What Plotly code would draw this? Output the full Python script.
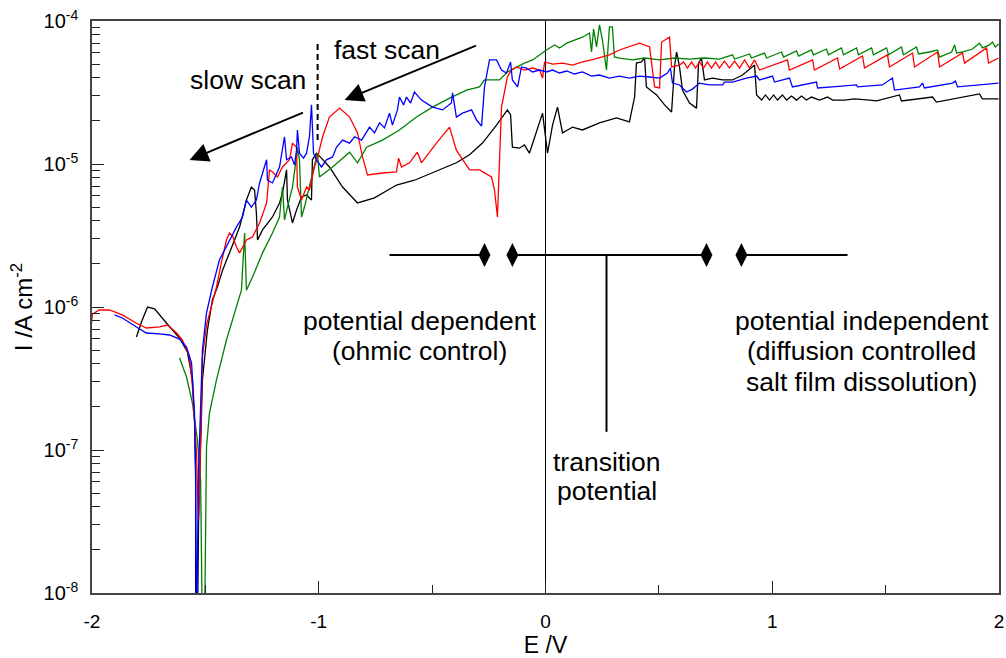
import plotly.graph_objects as go

# Potentiodynamic polarisation curves: potential E (V) vs current density I (A cm^-2)

E_black = [-1.804, -1.782, -1.755, -1.724, -1.671, -1.614, -1.579, -1.557, -1.548, -1.543,
           -1.543, -1.535, -1.530, -1.526, -1.513, -1.491, -1.469, -1.447, -1.424, -1.394,
           -1.372, -1.349, -1.319, -1.297, -1.283, -1.275, -1.270, -1.248, -1.204, -1.173,
           -1.160, -1.142, -1.138, -1.116, -1.098, -1.076, -1.054, -1.032, -1.028, -1.010,
           -0.988, -0.953, -0.895, -0.829, -0.754, -0.657, -0.578, -0.498, -0.393, -0.335,
           -0.278, -0.216, -0.168, -0.154, -0.146, -0.115, -0.093, -0.071, -0.040, -0.013,
           0.009, 0.031, 0.053, 0.075, 0.097, 0.119, 0.163, 0.238, 0.313, 0.370,
           0.393, 0.401, 0.423, 0.437, 0.445, 0.490, 0.525, 0.556, 0.569, 0.578,
           0.591, 0.604, 0.635, 0.666, 0.675, 0.688, 0.701, 0.736, 0.781, 0.825,
           0.869, 0.922, 0.931, 0.953, 0.970, 0.988, 1.006, 1.023, 1.045, 1.063,
           1.085, 1.107, 1.129, 1.151, 1.173, 1.208, 1.244, 1.266, 1.319, 1.363,
           1.429, 1.460, 1.561, 1.570, 1.707, 1.724, 1.914, 1.927, 1.998]
I_black = [6.17e-7, 7.86e-7, 1.0e-6, 9.7e-7, 7.7e-7, 6.07e-7, 4.84e-7, 3.09e-7, 1.62e-7, 7.25e-8,
           5e-9, 5e-9, 3.24e-8, 6.17e-8, 3.09e-7, 6.9e-7, 1.12e-6, 1.38e-6, 1.81e-6, 2.39e-6,
           2.94e-6, 3.62e-6, 5.6e-6, 6.9e-6, 6.58e-6, 4.54e-6, 2.94e-6, 3.46e-6, 4.26e-6, 5.34e-6,
           6.27e-6, 9.1e-6, 5.6e-6, 3.87e-6, 4.77e-6, 5.88e-6, 6.07e-6, 5.6e-6, 1.07e-5, 1.19e-5,
           1.10e-5, 9.53e-6, 6.9e-6, 5.34e-6, 5.8e-6, 7.13e-6, 7.7e-6, 8.65e-6, 1.02e-5, 1.16e-5,
           1.40e-5, 1.87e-5, 2.39e-5, 2.2e-5, 1.31e-5, 1.29e-5, 1.36e-5, 1.19e-5, 1.65e-5, 2.27e-5,
           1.19e-5, 1.87e-5, 2.5e-5, 1.65e-5, 1.73e-5, 1.81e-5, 1.73e-5, 1.94e-5, 2.10e-5, 1.97e-5,
           2.94e-5, 5.08e-5, 5.17e-5, 5.51e-5, 3.46e-5, 3.04e-5, 2.59e-5, 2.31e-5, 4.77e-5, 6.07e-5,
           4.77e-5, 3.29e-5, 2.67e-5, 2.46e-5, 5.08e-5, 5.51e-5, 3.87e-5, 3.99e-5, 3.87e-5, 3.87e-5,
           4.19e-5, 4.92e-5, 3.04e-5, 2.80e-5, 3.04e-5, 2.80e-5, 3.04e-5, 2.80e-5, 3.04e-5, 2.80e-5,
           2.99e-5, 2.80e-5, 2.99e-5, 2.80e-5, 2.94e-5, 2.80e-5, 2.94e-5, 2.80e-5, 2.80e-5, 2.85e-5,
           2.80e-5, 2.76e-5, 3.04e-5, 2.76e-5, 2.94e-5, 2.71e-5, 3.09e-5, 2.85e-5, 2.85e-5]

E_red = [-2.002, -1.998, -1.967, -1.923, -1.866, -1.804, -1.760, -1.702, -1.667, -1.627,
         -1.601, -1.570, -1.557, -1.548, -1.539, -1.535, -1.530, -1.526, -1.521, -1.513,
         -1.495, -1.473, -1.451, -1.429, -1.407, -1.394, -1.380, -1.363, -1.349, -1.319,
         -1.292, -1.261, -1.230, -1.217, -1.204, -1.182, -1.160, -1.129, -1.116, -1.098,
         -1.094, -1.076, -1.054, -1.041, -1.019, -1.006, -0.983, -0.953, -0.908, -0.864,
         -0.829, -0.807, -0.785, -0.719, -0.657, -0.648, -0.635, -0.600, -0.565, -0.547,
         -0.481, -0.423, -0.393, -0.335, -0.291, -0.238, -0.225, -0.212, -0.203, -0.194,
         -0.168, -0.150, -0.128, -0.093, -0.057, -0.026, -0.013, -0.004, 0.031, 0.075,
         0.119, 0.163, 0.203, 0.238, 0.282, 0.326, 0.370, 0.415, 0.459, 0.481,
         0.503, 0.512, 0.547, 0.556, 0.591, 0.609, 0.626, 0.644, 0.662, 0.679,
         0.697, 0.714, 0.732, 0.750, 0.767, 0.789, 0.811, 0.834, 0.856, 0.878,
         0.900, 0.922, 0.944, 1.067, 1.076, 1.178, 1.186, 1.288, 1.297, 1.398,
         1.407, 1.508, 1.517, 1.619, 1.627, 1.729, 1.738, 1.839, 1.848, 1.945,
         1.954, 1.998]
I_red = [7.7e-7, 8.94e-7, 9.53e-7, 9.53e-7, 8.8e-7, 7.7e-7, 7.13e-7, 7.25e-7, 7.48e-7, 6.58e-7,
         5.88e-7, 4.47e-7, 2.76e-7, 1.62e-7, 9.5e-8, 5.25e-8, 3.24e-8, 5.25e-8, 1.17e-7, 4.47e-7,
         7.48e-7, 1.03e-6, 1.38e-6, 2.06e-6, 2.94e-6, 3.29e-6, 3.14e-6, 2.63e-6, 2.39e-6, 2.94e-6,
         3.09e-6, 3.87e-6, 5.34e-6, 9.1e-6, 8.8e-6, 8.11e-6, 9.53e-6, 1.07e-5, 1.40e-5, 1.31e-5,
         6.9e-6, 5.6e-6, 6.9e-6, 6.58e-6, 9.53e-6, 1.10e-5, 1.55e-5, 2.13e-5, 2.46e-5, 2.13e-5,
         1.65e-5, 1.12e-5, 8.38e-6, 8.65e-6, 8.8e-6, 1.10e-5, 9.53e-6, 1.02e-5, 1.21e-5, 1.02e-5,
         1.40e-5, 1.81e-5, 1.25e-5, 9.1e-6, 9.1e-6, 8.11e-6, 6.58e-6, 4.26e-6, 9.53e-6, 2.5e-5,
         4.06e-5, 4.54e-5, 4.77e-5, 4.54e-5, 4.69e-5, 4.54e-5, 3.99e-5, 5.17e-5, 5.0e-5, 5.08e-5,
         4.92e-5, 5.17e-5, 5.34e-5, 5.51e-5, 5.8e-5, 6.27e-5, 6.58e-5, 7.0e-5, 6.58e-5, 3.46e-5,
         3.40e-5, 7.13e-5, 7.7e-5, 4.77e-5, 4.92e-5, 5.17e-5, 4.69e-5, 5.17e-5, 4.69e-5, 5.17e-5,
         4.69e-5, 5.17e-5, 4.69e-5, 5.17e-5, 4.69e-5, 5.25e-5, 4.69e-5, 5.25e-5, 4.69e-5, 5.34e-5,
         4.69e-5, 5.34e-5, 4.54e-5, 5.34e-5, 4.54e-5, 5.34e-5, 4.54e-5, 5.51e-5, 4.62e-5, 5.69e-5,
         4.69e-5, 5.8e-5, 4.77e-5, 5.97e-5, 4.77e-5, 6.07e-5, 4.77e-5, 5.97e-5, 5.08e-5, 6.48e-5,
         5.08e-5, 5.51e-5]

E_blue = [-1.901, -1.866, -1.804, -1.760, -1.702, -1.658, -1.614, -1.583, -1.561, -1.548,
          -1.543, -1.539, -1.530, -1.521, -1.513, -1.495, -1.469, -1.438, -1.394, -1.363,
          -1.336, -1.319, -1.297, -1.275, -1.261, -1.230, -1.226, -1.204, -1.173, -1.151,
          -1.142, -1.120, -1.107, -1.098, -1.094, -1.085, -1.067, -1.054, -1.041, -1.032,
          -1.023, -1.010, -0.988, -0.966, -0.939, -0.922, -0.895, -0.864, -0.842, -0.811,
          -0.776, -0.754, -0.732, -0.710, -0.688, -0.675, -0.653, -0.644, -0.626, -0.613,
          -0.595, -0.578, -0.547, -0.498, -0.454, -0.415, -0.410, -0.393, -0.366, -0.326,
          -0.304, -0.282, -0.269, -0.247, -0.216, -0.194, -0.172, -0.154, -0.146, -0.123,
          -0.106, -0.084, -0.057, -0.026, 0.004, 0.031, 0.062, 0.093, 0.128, 0.163,
          0.203, 0.238, 0.282, 0.326, 0.370, 0.415, 0.459, 0.503, 0.538, 0.551,
          0.560, 0.591, 0.622, 0.648, 0.679, 0.723, 0.781, 0.789, 0.825, 0.886,
          0.931, 0.944, 1.001, 1.010, 1.076, 1.089, 1.195, 1.200, 1.266, 1.372,
          1.376, 1.486, 1.530, 1.539, 1.649, 1.663, 1.671, 1.795, 1.808, 1.817,
          1.998]
I_blue = [8.8e-7, 8.38e-7, 7.25e-7, 6.58e-7, 6.48e-7, 6.37e-7, 5.97e-7, 5.25e-7, 4.06e-7, 1.81e-7,
          6.17e-8, 5e-9, 7.25e-8, 2.24e-7, 5.0e-7, 9.1e-7, 1.38e-6, 2.13e-6, 2.94e-6, 3.62e-6,
          4.26e-6, 5.6e-6, 5.0e-6, 5.6e-6, 7.37e-6, 1.07e-5, 7.7e-6, 7.37e-6, 9.53e-6, 1.55e-5,
          1.07e-5, 1.12e-5, 9.84e-6, 1.25e-5, 1.73e-5, 1.19e-5, 1.10e-5, 1.19e-5, 1.55e-5, 2.59e-5,
          1.19e-5, 1.07e-5, 9.53e-6, 1.07e-5, 1.12e-5, 1.31e-5, 1.47e-5, 1.40e-5, 1.55e-5, 1.47e-5,
          1.81e-5, 1.65e-5, 1.94e-5, 1.79e-5, 2.27e-5, 1.87e-5, 2.39e-5, 2.94e-5, 2.59e-5, 2.94e-5,
          2.67e-5, 3.19e-5, 2.80e-5, 2.5e-5, 2.39e-5, 2.67e-5, 3.14e-5, 2.13e-5, 2.27e-5, 2.39e-5,
          2.03e-5, 1.84e-5, 3.46e-5, 5.34e-5, 5.34e-5, 4.54e-5, 4.33e-5, 5.17e-5, 3.87e-5, 3.46e-5,
          4.77e-5, 4.69e-5, 4.40e-5, 4.54e-5, 4.40e-5, 4.54e-5, 4.33e-5, 4.47e-5, 4.26e-5, 4.40e-5,
          4.12e-5, 4.19e-5, 3.99e-5, 4.12e-5, 3.99e-5, 4.12e-5, 4.06e-5, 3.99e-5, 4.33e-5, 4.69e-5,
          3.68e-5, 3.57e-5, 3.19e-5, 3.34e-5, 3.68e-5, 3.57e-5, 3.57e-5, 3.74e-5, 3.74e-5, 3.99e-5,
          4.12e-5, 3.87e-5, 4.12e-5, 3.74e-5, 3.99e-5, 3.46e-5, 3.74e-5, 3.40e-5, 3.46e-5, 3.57e-5,
          3.46e-5, 3.57e-5, 3.99e-5, 3.29e-5, 3.46e-5, 3.68e-5, 3.40e-5, 3.68e-5, 3.80e-5, 3.46e-5,
          3.68e-5]

E_green = [-1.614, -1.583, -1.557, -1.535, -1.521, -1.517, -1.513, -1.504, -1.499, -1.495,
           -1.482, -1.451, -1.407, -1.363, -1.341, -1.327, -1.319, -1.292, -1.248, -1.204,
           -1.173, -1.160, -1.151, -1.138, -1.116, -1.098, -1.094, -1.085, -1.076, -1.063,
           -1.041, -1.019, -1.006, -0.997, -0.939, -0.864, -0.829, -0.789, -0.719, -0.644,
           -0.569, -0.498, -0.423, -0.348, -0.291, -0.269, -0.247, -0.203, -0.168, -0.128,
           -0.093, -0.057, -0.026, 0.004, 0.040, 0.062, 0.093, 0.128, 0.163, 0.194,
           0.203, 0.212, 0.225, 0.238, 0.251, 0.269, 0.282, 0.295, 0.304, 0.326,
           0.384, 0.437, 0.503, 0.569, 0.635, 0.701, 0.767, 0.825, 0.834, 0.900,
           0.908, 0.966, 0.975, 1.041, 1.050, 1.107, 1.116, 1.173, 1.182, 1.239,
           1.248, 1.305, 1.314, 1.372, 1.380, 1.438, 1.446, 1.504, 1.513, 1.570,
           1.579, 1.636, 1.645, 1.693, 1.729, 1.738, 1.791, 1.804, 1.813, 1.839,
           1.883, 1.914, 1.927, 1.958, 1.971, 1.984, 1.998]
I_green = [4.40e-7, 3.24e-7, 2.13e-7, 1.17e-7, 6.17e-8, 2.10e-8, 5e-9, 5e-9, 4.47e-8, 1.05e-7,
           1.81e-7, 3.09e-7, 5.88e-7, 1.0e-6, 1.31e-6, 3.29e-6, 1.31e-6, 1.62e-6, 2.39e-6, 3.29e-6,
           4.26e-6, 6.9e-6, 4.06e-6, 5.0e-6, 6.9e-6, 1.12e-5, 1.31e-5, 1.07e-5, 4.26e-6, 5.0e-6,
           6.9e-6, 9.53e-6, 1.19e-5, 8.11e-6, 9.53e-6, 1.21e-5, 1.02e-5, 1.31e-5, 1.47e-5, 1.73e-5,
           2.13e-5, 2.5e-5, 2.89e-5, 3.29e-5, 3.46e-5, 3.87e-5, 3.87e-5, 3.87e-5, 4.40e-5, 4.77e-5,
           5.08e-5, 5.34e-5, 5.8e-5, 6.27e-5, 6.8e-5, 6.48e-5, 7.0e-5, 7.37e-5, 7.7e-5, 8.24e-5,
           6.07e-5, 8.8e-5, 6.58e-5, 9.4e-5, 7.37e-5, 4.54e-5, 9.1e-5, 9.1e-5, 5.6e-5, 5.51e-5,
           5.34e-5, 5.51e-5, 5.34e-5, 5.51e-5, 5.42e-5, 5.51e-5, 5.42e-5, 5.8e-5, 5.42e-5, 5.88e-5,
           5.51e-5, 5.97e-5, 5.51e-5, 6.07e-5, 5.6e-5, 6.17e-5, 5.69e-5, 6.27e-5, 5.8e-5, 6.37e-5,
           5.8e-5, 6.48e-5, 5.8e-5, 6.48e-5, 5.8e-5, 6.48e-5, 5.8e-5, 6.48e-5, 5.8e-5, 6.58e-5,
           5.8e-5, 6.58e-5, 5.88e-5, 6.07e-5, 6.27e-5, 5.6e-5, 6.07e-5, 6.8e-5, 5.97e-5, 6.07e-5,
           6.37e-5, 7.0e-5, 6.48e-5, 6.8e-5, 7.13e-5, 6.58e-5, 6.9e-5]

# Regime bar: dependent / transition / independent
bar_level = 2.31e-6
bar_left = [-0.688, -0.269]
bar_mid = [-0.146, 0.710]
bar_right = [0.864, 1.332]
diamond_E = [-0.269, -0.146, 0.710, 0.864]
transition_E = 0.269
transition_I = [2.31e-6, 1.34e-7]

# Boundary between slow and fast scan
scan_split_E = -1.005
scan_split_I = [1.47e-5, 7.1e-5]

FONT = "Liberation Sans, Arial, sans-serif"

fig = go.Figure()

for E, I, col in [(E_black, I_black, "#000000"), (E_green, I_green, "#008000"),
                  (E_red, I_red, "#ff0000"), (E_blue, I_blue, "#0000ff")]:
    fig.add_trace(go.Scatter(x=E, y=I, mode="lines",
                             line=dict(color=col, width=1.3),
                             showlegend=False, hoverinfo="skip"))

bar_x = bar_left + [None] + bar_mid + [None] + bar_right
bar_y = [bar_level] * 2 + [None] + [bar_level] * 2 + [None] + [bar_level] * 2
fig.add_trace(go.Scatter(x=bar_x, y=bar_y, mode="lines",
                         line=dict(color="black", width=2),
                         showlegend=False, hoverinfo="skip"))
fig.add_trace(go.Scatter(x=[transition_E, transition_E], y=transition_I, mode="lines",
                         line=dict(color="black", width=2),
                         showlegend=False, hoverinfo="skip"))
fig.add_trace(go.Scatter(x=diamond_E, y=[bar_level] * len(diamond_E), mode="markers",
                         marker=dict(symbol="diamond-tall", size=17, color="black"),
                         showlegend=False, hoverinfo="skip"))
fig.add_trace(go.Scatter(x=[scan_split_E, scan_split_E], y=scan_split_I, mode="lines",
                         line=dict(color="black", width=2, dash="6px,4px"),
                         showlegend=False, hoverinfo="skip"))

# Text labels (y positions given as log10 of current density)
labels = [
    ("slow scan", -1.314, -4.413),
    ("fast scan", -0.701, -4.203),
    ("potential dependent", -0.556, -6.098),
    ("(ohmic control)", -0.556, -6.308),
    ("potential independent", 1.394, -6.098),
    ("(diffusion controlled", 1.394, -6.308),
    ("salt film dissolution)", 1.394, -6.524),
    ("transition", 0.269, -7.084),
    ("potential", 0.269, -7.287),
]
for txt, ex, ly in labels:
    fig.add_annotation(x=ex, y=ly, xref="x", yref="y", text=txt, showarrow=False,
                       font=dict(family=FONT, size=26.5, color="black"),
                       xanchor="center", yanchor="middle")

# Scan-direction arrows: (head E, head log I, tail E, tail log I)
arrows = [(-1.570, -4.972, -1.063, -4.636), (-0.886, -4.552, -0.300, -4.168)]
for hx, hy, tx, ty in arrows:
    fig.add_annotation(x=hx, y=hy, ax=tx, ay=ty, xref="x", yref="y", axref="x", ayref="y",
                       text="", showarrow=True, arrowhead=2, arrowsize=1.9,
                       arrowwidth=2, arrowcolor="black")

y_major = [1e-8, 1e-7, 1e-6, 1e-5, 1e-4]
y_major_text = ["10<sup>-8</sup>", "10<sup>-7</sup>", "10<sup>-6</sup>",
                "10<sup>-5</sup>", "10<sup>-4</sup>"]
y_minor = [k * 10.0 ** d for d in range(-8, -4) for k in range(2, 10)]

fig.update_layout(
    width=1006, height=658,
    margin=dict(l=92, r=7, t=21, b=65, autoexpand=False),
    paper_bgcolor="white", plot_bgcolor="white",
    font=dict(family=FONT, color="black"),
    xaxis=dict(
        range=[-2, 2], tickvals=[-2, -1, 0, 1, 2], ticktext=["-2", "-1", "0", "1", "2"],
        ticks="inside", ticklen=12, tickwidth=1.2, tickcolor="#222",
        minor=dict(tickvals=[-1.5, -0.5, 0.5, 1.5], ticks="inside", ticklen=8,
                   tickwidth=1.2, tickcolor="#222"),
        showline=True, linecolor="#444", linewidth=1.5, mirror=True,
        showgrid=False, zeroline=True, zerolinecolor="black", zerolinewidth=1,
        tickfont=dict(size=19), ticklabelstandoff=10, automargin=False,
        title=dict(text="E /V", font=dict(size=23), standoff=8),
    ),
    yaxis=dict(
        type="log", range=[-8, -4], tickvals=y_major, ticktext=y_major_text,
        ticks="inside", ticklen=12, tickwidth=1.2, tickcolor="#222",
        minor=dict(tickvals=y_minor, ticks="inside", ticklen=8,
                   tickwidth=1.2, tickcolor="#222"),
        showline=True, linecolor="#444", linewidth=1.5, mirror=True,
        showgrid=False, zeroline=False,
        tickfont=dict(size=20), ticklabelstandoff=8, automargin=False,
        title=dict(text="I /A cm<sup>-2</sup>", font=dict(size=24), standoff=4),
    ),
)

fig.write_html("out.html")
